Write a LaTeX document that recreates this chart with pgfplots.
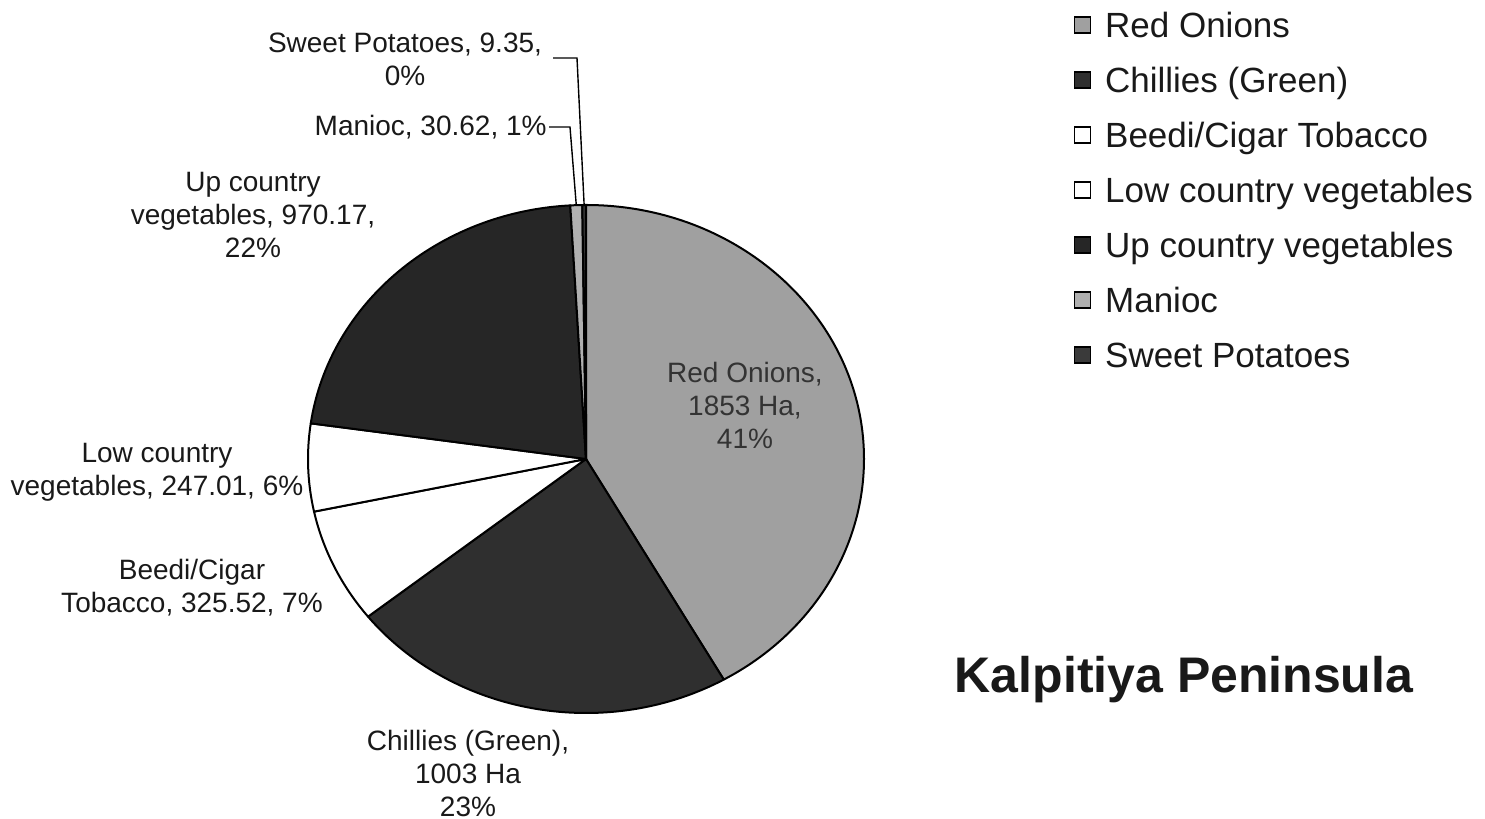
\documentclass[border=0pt]{standalone}
\usepackage{fontspec}
\setmainfont{Liberation Sans}
\usepackage{pgfplots}
\usepackage{pgfplotstable}
\pgfplotsset{compat=1.18}

\pgfplotstableread[col sep=comma]{
name,value
Red Onions,1853
Chillies (Green),1003
Beedi/Cigar Tobacco,325.52
Low country vegetables,247.01
Up country vegetables,970.17
Manioc,30.62
Sweet Potatoes,9.35
}\piedata

\definecolor{onion}{HTML}{A0A0A0}
\definecolor{chilli}{HTML}{2F2F2F}
\definecolor{upc}{HTML}{262626}
\definecolor{manioc}{HTML}{B0B0B0}
\definecolor{sweet}{HTML}{3A3A3A}

% pie geometry (axis units = reference pixels)
\def\cx{586}
\def\cy{360}
\def\rx{278}
\def\ry{254}

% cumulative angles from the data (clockwise from 12 o'clock)
\pgfmathsetmacro\total{0}
\pgfplotsforeachungrouped \i in {0,...,6}{%
  \pgfplotstablegetelem{\i}{value}\of\piedata
  \pgfmathsetmacro\total{\total+\pgfplotsretval}}
\def\cur{90}
\pgfplotsforeachungrouped \i in {0,...,6}{%
  \pgfplotstablegetelem{\i}{value}\of\piedata
  \pgfmathsetmacro\nxt{\cur-\pgfplotsretval/\total*360}
  \pgfmathsetmacro\mid{(\cur+\nxt)/2}
  \expandafter\xdef\csname aS\i\endcsname{\cur}
  \expandafter\xdef\csname aE\i\endcsname{\nxt}
  \expandafter\xdef\csname aM\i\endcsname{\mid}
  \global\let\cur\nxt}

\newcommand\slice[2]{%
  \filldraw[fill=#2,draw=black,line width=1pt,line join=round]
    (axis cs:\cx,\cy) --
    (axis cs:{\cx+\rx*cos(\csname aS#1\endcsname)},{\cy+\ry*sin(\csname aS#1\endcsname)})
    arc[start angle=\csname aS#1\endcsname, end angle=\csname aE#1\endcsname,
        x radius=\rx*0.5pt, y radius=\ry*0.5pt] -- cycle;}

\newcommand\rim[1]{(axis cs:{\cx+\rx*cos(\csname aM#1\endcsname)},{\cy+\ry*sin(\csname aM#1\endcsname)})}

\tikzset{lbl/.style={font=\fontsize{14}{16.5}\selectfont, align=center, text=black!90, inner sep=0pt}}

\begin{document}
\begin{tikzpicture}
\begin{axis}[
  x=0.5pt, y=0.5pt,
  xmin=0, xmax=1485, ymin=0, ymax=819,
  hide axis, clip=false,
  legend image code/.code={\draw[#1] (0pt,-4pt) rectangle (8pt,4pt);},
  legend cell align=left,
  legend style={draw=none, fill=none, inner sep=0pt, outer sep=0pt,
    at={(axis description cs:0.7232,0.989)}, anchor=north west,
    font=\fontsize{17.5}{20}\selectfont,
    row sep=11.5pt,
    nodes={inner sep=0pt, text height=14pt, text depth=2pt, text=black!90},
    /tikz/every odd column/.append style={column sep=7pt}},
]
\slice{0}{onion}
\slice{1}{chilli}
\slice{2}{white}
\slice{3}{white}
\slice{4}{upc}
\slice{5}{manioc}
\slice{6}{sweet}

\addlegendimage{fill=onion,draw=black,line width=0.6pt}
\addlegendentry{Red Onions}
\addlegendimage{fill=chilli,draw=black,line width=0.6pt}
\addlegendentry{Chillies (Green)}
\addlegendimage{fill=white,draw=black,line width=0.6pt}
\addlegendentry{Beedi/Cigar Tobacco}
\addlegendimage{fill=white,draw=black,line width=0.6pt}
\addlegendentry{Low country vegetables}
\addlegendimage{fill=upc,draw=black,line width=0.6pt}
\addlegendentry{Up country vegetables}
\addlegendimage{fill=manioc,draw=black,line width=0.6pt}
\addlegendentry{Manioc}
\addlegendimage{fill=sweet,draw=black,line width=0.6pt}
\addlegendentry{Sweet Potatoes}

% leader lines for the two thin slices
\draw[line width=0.7pt] (axis cs:553,761) -- (axis cs:577,761) -- \rim{6};
\draw[line width=0.7pt] (axis cs:549,692) -- (axis cs:570,692) -- \rim{5};

% data labels
\node[lbl] at (axis cs:405,760) {Sweet Potatoes, 9.35,\\0\%};
\node[lbl,anchor=east] at (axis cs:547,692) {Manioc, 30.62, 1\%};
\node[lbl] at (axis cs:253,604) {Up country\\vegetables, 970.17,\\22\%};
\node[lbl,text=black!80] at (axis cs:745,414) {Red Onions,\\1853 Ha,\\41\%};
\node[lbl] at (axis cs:157,347) {Low country\\vegetables, 247.01, 6\%};
\node[lbl] at (axis cs:192,231) {Beedi/Cigar\\Tobacco, 325.52, 7\%};
\node[lbl] at (axis cs:468,46) {Chillies (Green),\\1003 Ha\\23\%};

% title
\node[font=\bfseries\fontsize{25}{30}\selectfont, text=black!90] at (axis cs:1184,139) {Kalpitiya Peninsula};
\end{axis}
\pgfresetboundingbox
\path (current axis.south west) rectangle (current axis.north east);
\end{tikzpicture}
\end{document}
